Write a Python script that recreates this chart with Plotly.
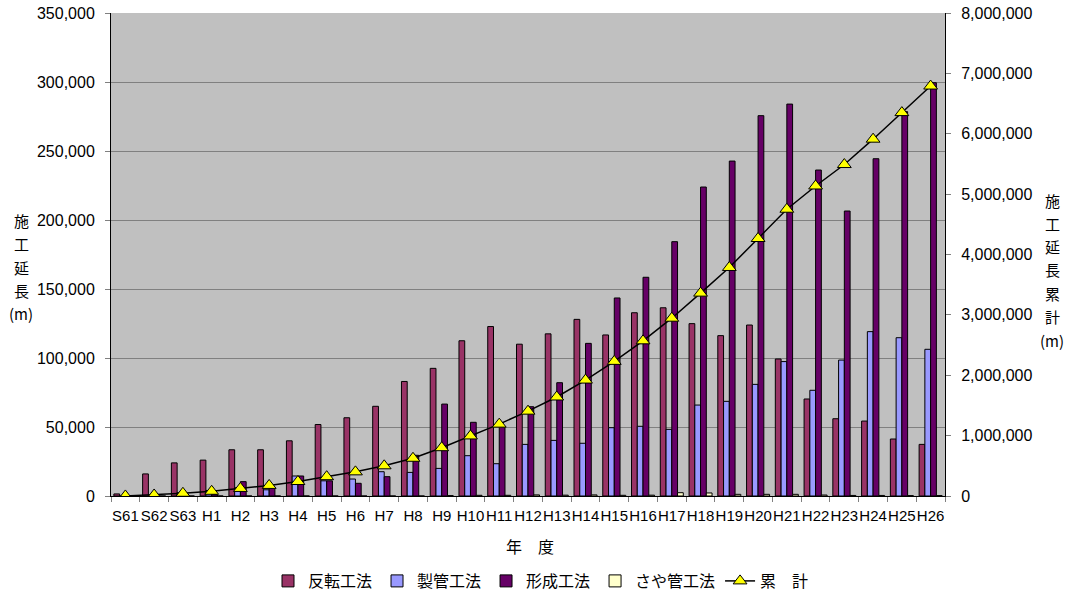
import plotly.graph_objects as go

categories = ["S61", "S62", "S63"] + ["H%d" % i for i in range(1, 27)]

hanten = [1500, 16000, 24000, 26000, 33500, 33500, 40000, 51800, 56700, 65000,
          83000, 92500, 112500, 122800, 110000, 117500, 128000, 116700, 132800, 136400,
          124900, 116200, 123900, 99300, 70300, 56000, 54300, 41300, 37400]

seikan = [0, 0, 2500, 4000, 6000, 4500, 14500, 11000, 12300, 17600,
          17100, 20000, 29200, 23400, 37400, 40300, 38200, 49500, 50500, 48300,
          65900, 68600, 80900, 97400, 76600, 98500, 119100, 114700, 106300]

keisei = [0, 0, 0, 1000, 10400, 5500, 14500, 11000, 9200, 14000,
          29500, 66600, 53400, 50000, 64700, 82100, 110600, 143500, 158500, 184300,
          223900, 242700, 275600, 284000, 236200, 206500, 244400, 278500, 299500]

sayakan = [0, 0, 0, 0, 0, 0, 0, 0, 0, 0,
           0, 300, 500, 500, 800, 600, 800, 500, 600, 2400,
           2200, 1200, 1200, 1200, 700, 400, 400, 300, 300]

ruikei = [1000, 17000, 45000, 78000, 125000, 175000, 240000, 320000, 400000, 500000,
          625000, 800000, 995000, 1190000, 1405000, 1640000, 1920000, 2230000, 2570000, 2945000,
          3360000, 3785000, 4265000, 4750000, 5135000, 5490000, 5910000, 6350000, 6790000]

left_ticks = [0, 50000, 100000, 150000, 200000, 250000, 300000, 350000]
right_ticks = [0, 1000000, 2000000, 3000000, 4000000, 5000000, 6000000, 7000000, 8000000]

FONT = "Liberation Sans, Arial, Noto Sans CJK JP"
JP = "Noto Sans CJK JP, Liberation Sans"

fig = go.Figure()
bar_series = [("反転工法", hanten, "#993366"),
              ("製管工法", seikan, "#9999FF"),
              ("形成工法", keisei, "#660066"),
              ("さや管工法", sayakan, "#FFFFCC")]
for name, vals, col in bar_series:
    fig.add_trace(go.Bar(x=categories, y=vals, name=name,
                         marker=dict(color=col, line=dict(color="black", width=1))))

fig.add_trace(go.Scatter(x=categories, y=ruikei, name="累　計", yaxis="y2",
                         mode="lines+markers",
                         line=dict(color="black", width=1.5),
                         marker=dict(symbol="triangle-up", size=12, color="#FFFF00",
                                     line=dict(color="black", width=1))))

W, H = 1071, 596
L, R, T, B = 111, 945, 13, 496


def px(x):
    return (x - L) / (R - L)


def py(y):
    return (B - y) / (B - T)


def label(text, x, y, size=15):
    return dict(x=px(x), y=py(y), xref="paper", yref="paper", text=text,
                xanchor="center", yanchor="middle", showarrow=False,
                font=dict(family=JP, size=size, color="black"))


annotations = []
for ch, yy in zip(["施", "工", "延", "長", "(m)"], [220, 243, 267, 290, 313]):
    annotations.append(label(ch, 21, yy))
for ch, yy in zip(["施", "工", "延", "長", "累", "計", "(m)"], [200, 223, 246, 269, 293, 316, 340]):
    annotations.append(label(ch, 1052, yy))
annotations.append(label("年　度", 530, 546, 16))

fig.update_layout(
    width=W, height=H,
    margin=dict(l=L, r=W - R, t=T, b=H - B, pad=0, autoexpand=False),
    paper_bgcolor="white", plot_bgcolor="#C0C0C0",
    barmode="group", bargap=0.2, bargroupgap=0,
    font=dict(family=FONT, size=16, color="black"),
    showlegend=True,
    legend=dict(orientation="h", x=px(541), xanchor="center", y=py(581), yanchor="middle",
                font=dict(family=JP, size=16, color="black"), bgcolor="rgba(0,0,0,0)",
                traceorder="normal", itemwidth=30),
    xaxis=dict(type="category", range=[-0.5, len(categories) - 0.5],
               showline=True, linecolor="black", linewidth=1,
               ticks="outside", tickson="boundaries", ticklen=5, tickcolor="#808080",
               tickangle=0, showgrid=False, automargin=False, ticklabelstandoff=6,
               tickfont=dict(family=FONT, size=15)),
    yaxis=dict(range=[0, 350000], tickvals=left_ticks,
               ticktext=[f"{v:,}" for v in left_ticks],
               showline=True, linecolor="black", linewidth=1,
               ticks="outside", ticklen=5, tickcolor="#808080",
               showgrid=True, gridcolor="#808080", gridwidth=1, zeroline=False,
               automargin=False, ticklabelstandoff=7, tickfont=dict(family=FONT, size=16)),
    yaxis2=dict(range=[0, 8000000], tickvals=right_ticks,
                ticktext=[f"{v:,}" for v in right_ticks],
                overlaying="y", side="right",
                showline=True, linecolor="black", linewidth=1,
                ticks="outside", ticklen=5, tickcolor="#808080",
                showgrid=False, zeroline=False, automargin=False, ticklabelstandoff=7,
                tickfont=dict(family=FONT, size=16)),
    annotations=annotations,
)

fig.write_html("out.html", config={"displayModeBar": False},
               post_script="document.body.style.margin='0';document.documentElement.style.margin='0';")
